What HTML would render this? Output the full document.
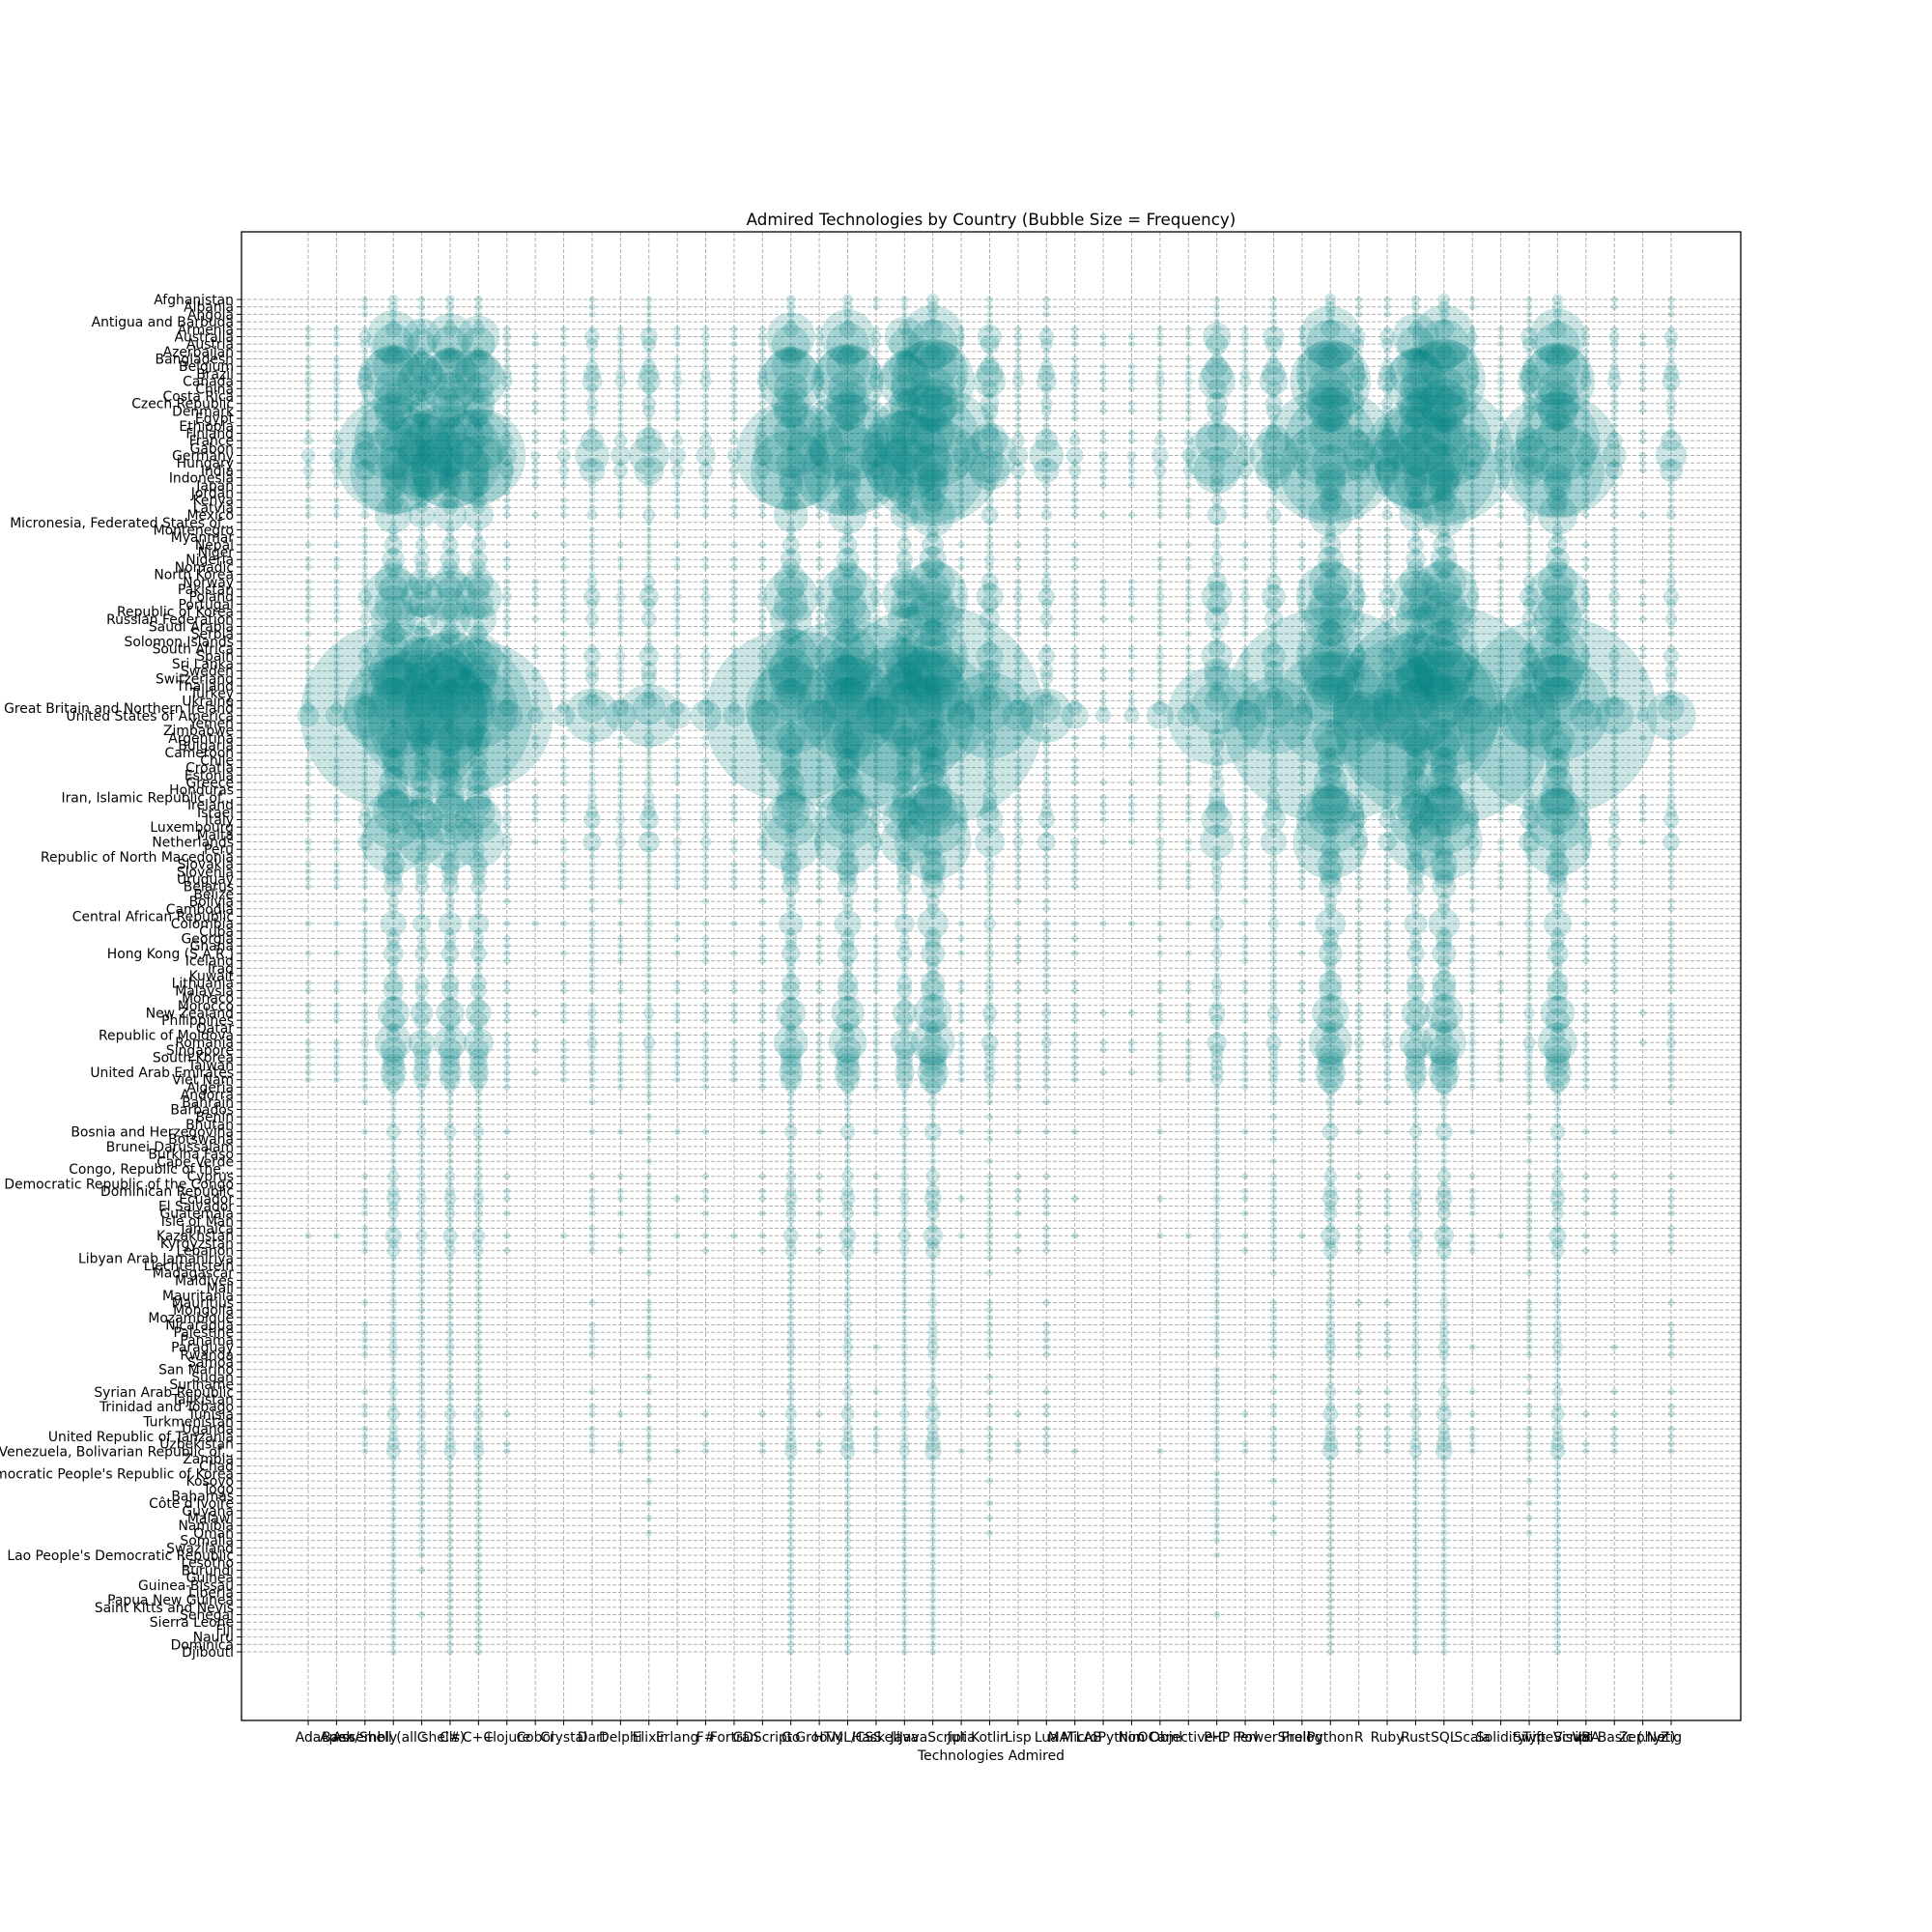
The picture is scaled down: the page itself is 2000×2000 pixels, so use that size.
<!DOCTYPE html>
<html><head><meta charset="utf-8"><style>
html,body{margin:0;padding:0;background:#fff;}
svg{display:block;font-family:"DejaVu Sans","Liberation Sans","Noto Sans CJK JP",sans-serif;}
</style></head><body>
<svg id="chart" width="2000" height="2000" viewBox="0 0 2000 2000">
<rect x="0" y="0" width="2000" height="2000" fill="#fff"/>
<g id="grid"></g>
<g id="bubbles"></g>
<g id="axes"></g>
<text x="1026" y="233" font-size="16.7" text-anchor="middle" fill="#000">Admired Technologies by Country (Bubble Size = Frequency)</text>
<text x="1026" y="1822" font-size="13.9" text-anchor="middle" fill="#000">Technologies Admired</text>
</svg>
<script>
const techs = ["Ada","Apex","Assembly","Bash/Shell (all shells)","C","C#","C++","Clojure","Cobol","Crystal","Dart","Delphi","Elixir","Erlang","F#","Fortran","GDScript","Go","Groovy","HTML/CSS","Haskell","Java","JavaScript","Julia","Kotlin","Lisp","Lua","MATLAB","MicroPython","Nim","OCaml","Objective-C","PHP","Perl","PowerShell","Prolog","Python","R","Ruby","Rust","SQL","Scala","Solidity","Swift","TypeScript","VBA","Visual Basic (.Net)","Zephyr","Zig"];
const techShare = [0.01,0.01,0.04,0.7,0.35,0.55,0.45,0.02,0.005,0.01,0.06,0.02,0.08,0.015,0.02,0.01,0.02,0.6,0.02,0.75,0.03,0.4,1.0,0.015,0.15,0.02,0.06,0.015,0.005,0.005,0.015,0.01,0.2,0.02,0.12,0.01,0.95,0.05,0.06,0.55,1.0,0.03,0.01,0.08,0.8,0.02,0.03,0.003,0.05];
const countries = ["Afghanistan","Albania","Angola","Antigua and Barbuda","Armenia","Australia","Austria","Azerbaijan","Bangladesh","Belgium","Brazil","Canada","China","Costa Rica","Czech Republic","Denmark","Egypt","Ethiopia","Finland","France","Gabon","Germany","Hungary","India","Indonesia","Japan","Jordan","Kenya","Latvia","Mexico","Micronesia, Federated States of...","Montenegro","Myanmar","Nepal","Niger","Nigeria","Nomadic","North Korea","Norway","Pakistan","Poland","Portugal","Republic of Korea","Russian Federation","Saudi Arabia","Serbia","Solomon Islands","South Africa","Spain","Sri Lanka","Sweden","Switzerland","Thailand","Turkey","Ukraine","United Kingdom of Great Britain and Northern Ireland","United States of America","Yemen","Zimbabwe","Argentina","Bulgaria","Cameroon","Chile","Croatia","Estonia","Greece","Honduras","Iran, Islamic Republic of...","Ireland","Israel","Italy","Luxembourg","Malta","Netherlands","Peru","Republic of North Macedonia","Slovakia","Slovenia","Uruguay","Belarus","Belize","Bolivia","Cambodia","Central African Republic","Colombia","Cuba","Georgia","Ghana","Hong Kong (S.A.R.)","Iceland","Iraq","Kuwait","Lithuania","Malaysia","Monaco","Morocco","New Zealand","Philippines","Qatar","Republic of Moldova","Romania","Singapore","South Korea","Taiwan","United Arab Emirates","Viet Nam","Algeria","Andorra","Bahrain","Barbados","Benin","Bhutan","Bosnia and Herzegovina","Botswana","Brunei Darussalam","Burkina Faso","Cape Verde","Congo, Republic of the...","Cyprus","Democratic Republic of the Congo","Dominican Republic","Ecuador","El Salvador","Guatemala","Isle of Man","Jamaica","Kazakhstan","Kyrgyzstan","Lebanon","Libyan Arab Jamahiriya","Liechtenstein","Madagascar","Maldives","Mali","Mauritania","Mauritius","Mongolia","Mozambique","Nicaragua","Palestine","Panama","Paraguay","Rwanda","Samoa","San Marino","Sudan","Suriname","Syrian Arab Republic","Tajikistan","Trinidad and Tobago","Tunisia","Turkmenistan","Uganda","United Republic of Tanzania","Uzbekistan","Venezuela, Bolivarian Republic of...","Zambia","Chad","Democratic People's Republic of Korea","Kosovo","Togo","Bahamas","Côte d'Ivoire","Guyana","Malawi","Namibia","Oman","Somalia","Swaziland","Lao People's Democratic Republic","Lesotho","Burundi","Guinea","Guinea-Bissau","Liberia","Papua New Guinea","Saint Kitts and Nevis","Senegal","Sierra Leone","Fiji","Nauru","Dominica","Djibouti"];
const countryTotals = [0.3,0.3,0.2,0.1,0.8,8,5,0.5,1.5,5,10,14,4,0.8,5,4,1.5,0.4,4,18,0.1,40,3,22,2,2,0.6,1.2,0.8,4,0.1,0.3,0.3,1,0.3,1.5,1,0.3,4,2.5,10,4,1,6,0.6,1.5,0.1,3,10,1,7,6,0.8,3,6,28,100,0.1,0.3,3,2,0.3,1.5,1.5,1,2.5,0.4,3,3,5,10,0.6,0.5,12,0.8,0.6,1.5,1.2,0.8,1.2,0.1,0.4,0.3,0.1,2,0.2,0.6,0.5,1.2,0.4,0.3,0.3,1.2,1.2,0.1,1,3,1.5,0.3,0.6,4,2,1.5,1.5,2,1.5,0.5,0.1,0.2,0.05,0.1,0.05,0.6,0.1,0.05,0.05,0.1,0.05,0.4,0.1,0.4,0.6,0.3,0.4,0.1,0.2,0.8,0.3,0.5,0.1,0.05,0.1,0.05,0.05,0.05,0.2,0.1,0.1,0.2,0.2,0.2,0.3,0.2,0.03,0.05,0.1,0.05,0.3,0.05,0.2,0.5,0.05,0.3,0.3,0.5,0.6,0.1,0.03,0.05,0.1,0.05,0.05,0.1,0.05,0.1,0.05,0.1,0.05,0.03,0.05,0.02,0.03,0.02,0.02,0.02,0.02,0.02,0.05,0.02,0.02,0.02,0.02,0.02];

const NS = "http://www.w3.org/2000/svg";
const L = 250, R = 1802, T = 240, B = 1781;
const x0 = 319, dx = (1730 - 319) / (techs.length - 1);
const y0 = 310, dy = (1710 - 310) / (countries.length - 1);
function xScale(i){ return x0 + i * dx; }
function yScale(j){ return y0 + j * dy; }
function rScale(v){ return Math.max(3.5, 11.5 * Math.sqrt(v)); }
function mk(tag, attrs){ const e = document.createElementNS(NS, tag); for (const k in attrs) e.setAttribute(k, attrs[k]); return e; }

const grid = document.getElementById('grid');
const axes = document.getElementById('axes');
const bub = document.getElementById('bubbles');

techs.forEach((t, i) => {
  const x = xScale(i);
  const g = mk('line', {x1:x, x2:x, y1:T, y2:B, stroke:'#b0b0b0', 'stroke-width':1, 'stroke-dasharray':'4,2'});
  
  
  grid.appendChild(g);
  const tk = mk('line', {x1:x, x2:x, y1:B, y2:B+5, stroke:'#000', 'stroke-width':1});
  
  
  axes.appendChild(tk);
  const tx = mk('text', {x:x, y:B+22, 'font-size':13.9, 'text-anchor':'middle', fill:'#000'});
  tx.textContent = t;
  
  
  axes.appendChild(tx);
});
countries.forEach((c, j) => {
  const y = yScale(j);
  const g = mk('line', {x1:L, x2:R, y1:y, y2:y, stroke:'#b0b0b0', 'stroke-width':1, 'stroke-dasharray':'4,2'});
  
  
  grid.appendChild(g);
  const tk = mk('line', {x1:L-5, x2:L, y1:y, y2:y, stroke:'#000', 'stroke-width':1});
  
  
  axes.appendChild(tk);
  const tx = mk('text', {x:L-8, y:y+5, 'font-size':13.9, 'text-anchor':'end', fill:'#000'});
  tx.textContent = c;
  
  
  axes.appendChild(tx);
});
countries.forEach((c, j) => {
  techs.forEach((t, i) => {
    const v = countryTotals[j] * techShare[i];
    if (v < 0.008) return;
    const el = mk('circle', {cx:xScale(i), cy:yScale(j), r:rScale(v), fill:'#008080', 'fill-opacity':0.2});
    
    
    bub.appendChild(el);
  });
});
const frame = mk('rect', {x:L, y:T, width:R-L, height:B-T, fill:'none', stroke:'#000', 'stroke-width':1.3});


axes.appendChild(frame);
</script>
</body></html>
